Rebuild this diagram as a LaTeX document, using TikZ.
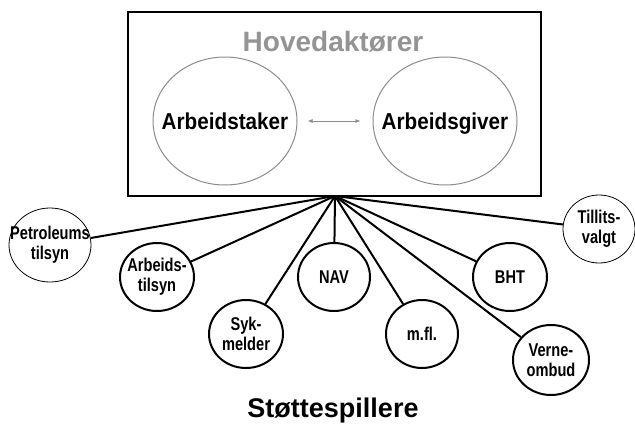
\documentclass[tikz,border=0pt]{standalone}
\usepackage{fontspec}
\setmainfont{Liberation Sans}
\newfontfamily\narrowsans[FakeStretch=0.79]{Liberation Sans}
\newfontfamily\halfnarrow[FakeStretch=0.9]{Liberation Sans}
\usetikzlibrary{shapes.geometric,arrows.meta}
\begin{document}
\begin{tikzpicture}[x=1pt,y=-1pt,
  helper/.style={draw,ellipse,line width=2pt,minimum width=74pt,minimum height=68pt,inner sep=0pt},
  helperthin/.style={helper,line width=0.8pt},
  helpertext/.style={align=center,inner sep=0pt,font=\narrowsans\bfseries\fontsize{18.5}{20}\selectfont},
  party/.style={draw=black!45,ellipse,line width=1pt,minimum width=144pt,minimum height=128pt,inner sep=0pt},
  partytext/.style={inner sep=0pt,text height=17pt,text depth=0pt,font=\halfnarrow\bfseries\fontsize{23}{26}\selectfont}]
\useasboundingbox (0,0) rectangle (635,429);
\node[draw,line width=2pt,minimum width=413pt,minimum height=184pt,inner sep=0pt] (hovedbox) at (334.5,104) {};
\node[text=black!42,font=\bfseries\fontsize{28}{30}\selectfont] (hoved) at (333,42) {Hovedaktører};
\node[party,label={[partytext]center:Arbeidstaker}] (taker) at (225,121) {};
\node[party,label={[partytext]center:Arbeidsgiver}] (giver) at (445,121) {};
\draw[{Latex[length=5pt,width=4pt]}-{Latex[length=5pt,width=4pt]},black!45,line width=0.8pt,shorten <=10pt,shorten >=12pt] (taker)--(giver);
\coordinate (hub) at (335,196);
% stottespillere
\node[helperthin,minimum width=82pt,minimum height=74pt,label={[helpertext]center:Petroleums\\tilsyn}] (pet) at (50,245) {};
\node[helper,label={[helpertext]center:Arbeids-\\tilsyn}] (atil) at (157,277) {};
\node[helper,label={[helpertext]center:Syk-\\melder}] (syk) at (246,334) {};
\node[helper,minimum width=72pt,label={[helpertext]center:NAV}] (nav) at (334,277) {};
\node[helper,minimum width=72pt,label={[helpertext]center:m.fl.}] (mfl) at (422,334) {};
\node[helper,label={[helpertext]center:BHT}] (bht) at (510,277) {};
\node[helper,minimum width=76pt,minimum height=70pt,label={[helpertext]center:Verne-\\ombud}] (verne) at (551,360) {};
\node[helperthin,minimum width=72pt,label={[helpertext]center:Tillits-\\valgt}] (tillit) at (599,229) {};
\foreach \s in {pet,atil,syk,nav,mfl,bht,verne,tillit} \draw[line width=2pt] (hub)--(\s);
\node[font=\bfseries\fontsize{27}{30}\selectfont] (stotte) at (333,411) {Støttespillere};
\end{tikzpicture}
\end{document}
